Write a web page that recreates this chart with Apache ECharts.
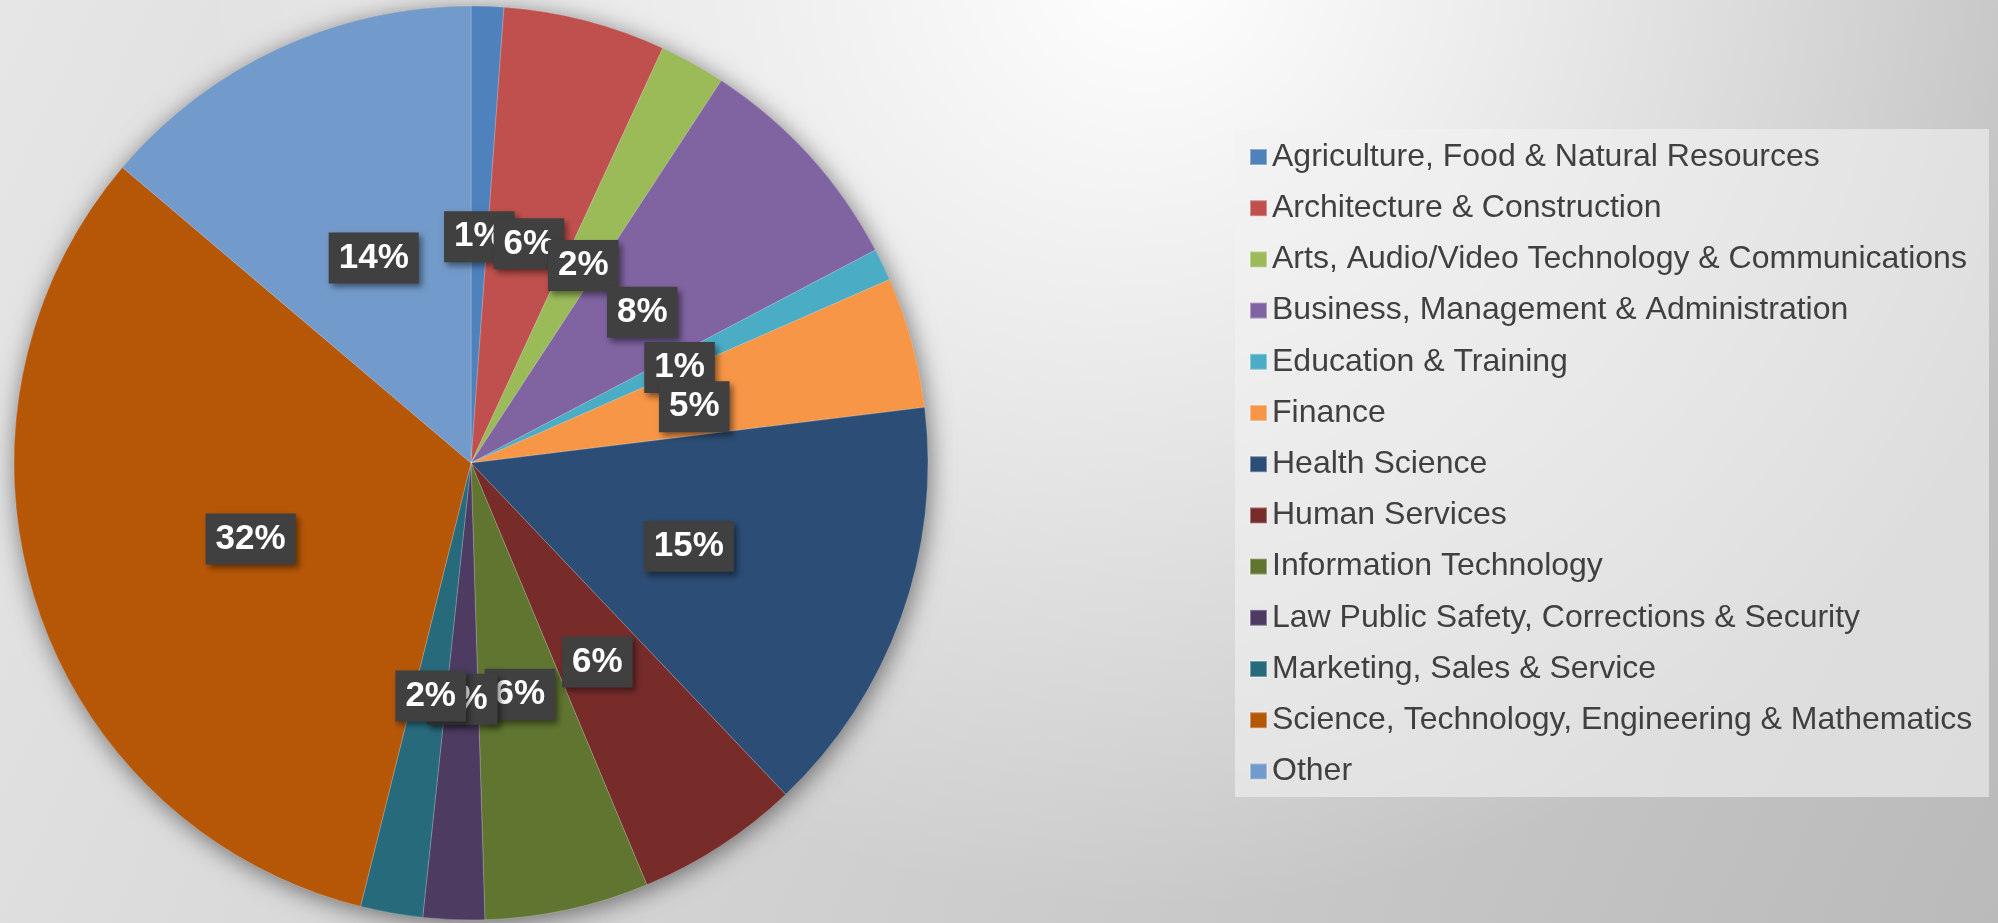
<!DOCTYPE html>
<html>
<head>
<meta charset="utf-8">
<title>Career Clusters</title>
<script src="https://cdn.jsdelivr.net/npm/echarts@6/dist/echarts.min.js"></script>
<style>
html,body{margin:0;padding:0;overflow:hidden;}
#chart{width:1998px;height:923px;}
</style>
</head>
<body>
<div id="chart"></div>
<script>
// 数据：各类占比（%）
var categories = [
    'Agriculture, Food & Natural Resources',
    'Architecture & Construction',
    'Arts, Audio/Video Technology & Communications',
    'Business, Management & Administration',
    'Education & Training',
    'Finance',
    'Health Science',
    'Human Services',
    'Information Technology',
    'Law Public Safety, Corrections & Security',
    'Marketing, Sales & Service',
    'Science, Technology, Engineering & Mathematics',
    'Other'
];
var shares = [1.15, 5.74, 2.33, 8.06, 1.14, 4.63, 14.85, 5.8, 5.8, 2.17, 2.2, 32.3, 13.8];
var colors = ['#4f81bd', '#c0504d', '#9bbb59', '#8064a2', '#4bacc6', '#f79646', '#2c4d75',
    '#772c2a', '#5f7530', '#4d3b62', '#276a7c', '#b65708', '#729aca'];

var center = [471, 463];
var radius = 457;
var font = 'Liberation Sans, Arial, sans-serif';

var pieData = [];
for (var i = 0; i < categories.length; i++) {
    pieData.push({ name: categories[i], value: shares[i], itemStyle: { color: colors[i] } });
}

var chart = echarts.init(document.getElementById('chart'));
var option = {
    backgroundColor: new echarts.graphic.LinearGradient(0, 0, 1998, 923, [
        { offset: 0, color: '#e6e6e6' },
        { offset: 1, color: '#bababa' }
    ], true),
    animation: false,
    graphic: [
        // 右上方的白色高光
        {
            type: 'rect', z: 0, silent: true,
            shape: { x: 0, y: 0, width: 1998, height: 923 },
            style: {
                fill: new echarts.graphic.RadialGradient(1150, -40, 950, [
                    { offset: 0, color: 'rgba(255,255,255,1)' },
                    { offset: 0.45, color: 'rgba(255,255,255,0.55)' },
                    { offset: 1, color: 'rgba(255,255,255,0)' }
                ], true)
            }
        },
        // 图例底框
        {
            type: 'rect', z: 1, silent: true,
            shape: { x: 1235, y: 129, width: 754, height: 668 },
            style: { fill: 'rgba(242,242,242,0.6)' }
        }
    ],
    legend: {
        orient: 'vertical',
        left: 1249,
        top: 141,
        padding: 0,
        icon: 'rect',
        itemWidth: 17,
        itemHeight: 16,
        itemGap: 19.2,
        selectedMode: false,
        data: categories,
        textStyle: {
            color: '#404040',
            fontSize: 32,
            lineHeight: 32,
            fontFamily: font
        }
    },
    series: [
        {
            // 饼图阴影
            type: 'pie',
            silent: true,
            center: center,
            radius: radius,
            z: 1,
            label: { show: false },
            labelLine: { show: false },
            data: [{ value: 1, name: '', itemStyle: {
                color: '#8a8a8a',
                shadowBlur: 24,
                shadowColor: 'rgba(0,0,0,0.5)',
                shadowOffsetX: 2,
                shadowOffsetY: 4
            } }]
        },
        {
            type: 'pie',
            center: center,
            radius: radius,
            startAngle: 90,
            clockwise: true,
            z: 2,
            avoidLabelOverlap: false,
            labelLayout: { hideOverlap: false },
            itemStyle: { borderWidth: 0.6, borderColor: 'rgba(255,255,255,0.35)' },
            label: {
                show: true,
                position: 'inside',
                offset: [0, 5],
                formatter: function (p) { return Math.round(p.percent) + '%'; },
                color: '#ffffff',
                fontWeight: 'bold',
                fontSize: 35,
                lineHeight: 35,
                fontFamily: font,
                backgroundColor: '#404040',
                padding: [8, 10, 8, 10],
                shadowColor: 'rgba(0,0,0,0.45)',
                shadowBlur: 6,
                shadowOffsetX: 3,
                shadowOffsetY: 4
            },
            labelLine: { show: false },
            emphasis: { disabled: true },
            data: pieData
        }
    ]
};
chart.setOption(option);
</script>
</body>
</html>
